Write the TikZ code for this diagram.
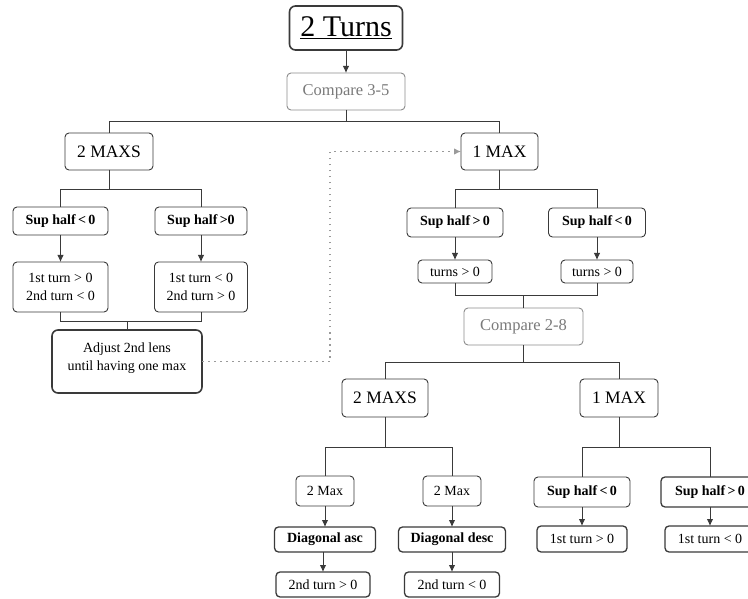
\documentclass[tikz,border=0pt]{standalone}
\usepackage{fontspec}
\setmainfont{Liberation Serif}
\usetikzlibrary{arrows.meta, positioning, calc}
\definecolor{tbline}{HTML}{3A3A3A}
\definecolor{tbgray}{HTML}{8C8C8C}
\definecolor{tbgraytext}{HTML}{7A7A7A}
\definecolor{tbdots}{HTML}{9A9A9A}

\begin{document}
\begin{tikzpicture}[
  x=1pt, y=-1pt,
  every node/.style={inner sep=0pt, outer sep=0pt},
  box/.style={rectangle, rounded corners=4pt, draw=tbline, line width=0.9pt, fill=white, align=center},
  titlebox/.style={box, line width=1.6pt, rounded corners=6pt, minimum width=113pt, minimum height=44pt, font=\fontsize{30}{32}\selectfont},
  cmpbox/.style={box, draw=tbgray, text=tbgraytext, minimum width=118pt, minimum height=37pt, font=\fontsize{16.5}{18}\selectfont},
  maxbox/.style={box, minimum height=37pt, font=\fontsize{17.5}{19}\selectfont},
  supbox/.style={box, minimum height=28pt, font=\bfseries\fontsize{14}{16}\selectfont},
  resbox/.style={box, font=\fontsize{14}{18}\selectfont},
  lowbox/.style={box, line width=1.3pt, minimum height=25pt, font=\fontsize{14}{16}\selectfont},
  tree/.style={draw=tbline, line width=0.9pt},
  arr/.style={tree, -{Latex[length=7pt, width=6.5pt]}},
  loopline/.style={draw=tbdots, line width=1.1pt, dash pattern=on 1.5pt off 4.5pt, -{Latex[length=7pt, width=6.5pt]}},
]
\useasboundingbox (0,0) rectangle (748,599);

% Top: title and first comparison
\node[titlebox] (turns) at (346, 28) {\underline{2 Turns}};
\node[cmpbox] (cmp35) at (346, 91.5) {Compare 3-5};
\draw[arr] (turns.south) -- (cmp35.north);

\node[maxbox, minimum width=88pt] (maxsL) at (109, 151.5) {2 MAXS};
\node[maxbox, minimum width=77pt] (maxR) at (499.5, 151.5) {1 MAX};
\draw[tree] (cmp35.south) -- ++(0,11) -| (maxsL.north);
\draw[tree] (cmp35.south) -- ++(0,11) -| (maxR.north);

% Left side: two maxima
\node[supbox, minimum width=95pt] (supLa) at (60.5, 221) {Sup half\,{<}\,0};
\node[supbox, minimum width=92pt] (supLb) at (201, 221) {Sup half\,{>}0};
\draw[tree] (maxsL.south) -- ++(0,19) -| (supLa.north);
\draw[tree] (maxsL.south) -- ++(0,19) -| (supLb.north);

\node[resbox, minimum width=95pt, minimum height=50pt] (resLa) at (60.5, 287) {1st turn > 0\\2nd turn < 0};
\node[resbox, minimum width=93pt, minimum height=50pt] (resLb) at (201, 287) {1st turn < 0\\2nd turn > 0};
\draw[arr] (supLa.south) -- (resLa.north);
\draw[arr] (supLb.south) -- (resLb.north);

\node[resbox, line width=1.6pt, rounded corners=6pt, minimum width=150pt, minimum height=63pt, text depth=9pt] (adj) at (127, 361.5) {Adjust 2nd lens\\until having one max};
\draw[tree] (resLa.south) -- ++(0,9) -| (adj.north);
\draw[tree] (resLb.south) -- ++(0,9) -| (adj.north);

% back to the single maximum branch
\coordinate (loopcorner) at (330, 361.5);
\draw[loopline] (adj.east) -- (loopcorner) |- (maxR.west);

% Right side: one maximum
\node[supbox, minimum width=96pt, minimum height=29pt] (supRa) at (455, 222.5) {Sup half\,{>}\,0};
\node[supbox, minimum width=97pt, minimum height=29pt] (supRb) at (597, 222.5) {Sup half\,{<}\,0};
\draw[tree] (maxR.south) -- ++(0,19) -| (supRa.north);
\draw[tree] (maxR.south) -- ++(0,19) -| (supRb.north);

\node[resbox, minimum width=74pt, minimum height=23pt] (trnRa) at (455, 271.5) {turns > 0};
\node[resbox, minimum width=72pt, minimum height=23pt] (trnRb) at (597, 271.5) {turns > 0};
\draw[arr] (supRa.south) -- (trnRa.north);
\draw[arr] (supRb.south) -- (trnRb.north);

\node[cmpbox, minimum width=119pt] (cmp28) at (523.5, 326.5) {Compare 2-8};
\draw[tree] (trnRa.south) -- ++(0,12) -| (cmp28.north);
\draw[tree] (trnRb.south) -- ++(0,12) -| (cmp28.north);

\node[maxbox, minimum width=86pt, minimum height=38pt] (maxsR) at (385, 398) {2 MAXS};
\node[maxbox, minimum width=78pt, minimum height=38pt] (maxR2) at (619, 398) {1 MAX};
\draw[tree] (cmp28.south) -- ++(0,17) -| (maxsR.north);
\draw[tree] (cmp28.south) -- ++(0,17) -| (maxR2.north);

% Bottom: two maxima after 2-8
\node[resbox, minimum width=58pt, minimum height=30pt] (twoA) at (325, 491) {2 Max};
\node[resbox, minimum width=58pt, minimum height=30pt] (twoB) at (452, 491) {2 Max};
\draw[tree] (maxsR.south) -- ++(0,30) -| (twoA.north);
\draw[tree] (maxsR.south) -- ++(0,30) -| (twoB.north);

\node[lowbox, minimum width=101pt, font=\bfseries\fontsize{14}{16}\selectfont] (diagA) at (325, 539.5) {Diagonal asc};
\node[lowbox, minimum width=107pt, font=\bfseries\fontsize{14}{16}\selectfont] (diagB) at (452, 539.5) {Diagonal desc};
\draw[arr] (twoA.south) -- (diagA.north);
\draw[arr] (twoB.south) -- (diagB.north);

\node[lowbox, minimum width=94pt] (endA) at (323, 584.5) {2nd turn > 0};
\node[lowbox, minimum width=95pt] (endB) at (452, 584.5) {2nd turn < 0};
\draw[arr] (diagA.south -| endA) -- (endA.north);
\draw[arr] (diagB.south) -- (endB.north);

% Bottom: one maximum after 2-8
\node[supbox, minimum width=96pt, minimum height=30pt] (supLo1) at (582, 492) {Sup half\,{<}\,0};
\node[supbox, line width=1.3pt, minimum width=98pt, minimum height=30pt] (supLo2) at (710, 492) {Sup half\,{>}\,0};
\draw[tree] (maxR2.south) -- ++(0,30) -| (supLo1.north);
\draw[tree] (maxR2.south) -- ++(0,30) -| (supLo2.north);

\node[lowbox, minimum width=90pt, minimum height=26pt] (fstA) at (582, 539) {1st turn > 0};
\node[lowbox, minimum width=90pt, minimum height=26pt] (fstB) at (710, 539) {1st turn < 0};
\draw[arr] (supLo1.south) -- (fstA.north);
\draw[arr] (supLo2.south) -- (fstB.north);

\end{tikzpicture}
\end{document}
